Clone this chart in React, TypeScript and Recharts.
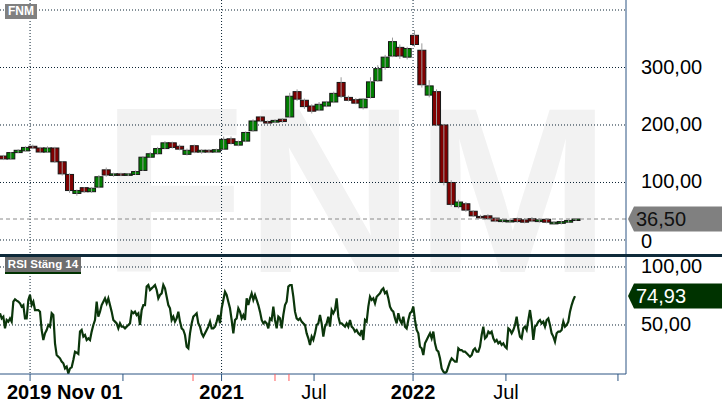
import { ComposedChart, Bar, Line, XAxis, YAxis, CartesianGrid, ReferenceLine } from 'recharts';

const FONT = '"Liberation Sans", Arial, sans-serif';

// x axis runs in fractional years
const X_DOMAIN = [2019.843, 2023.112];
const CANDLE_START = 2019.862;
const CANDLE_STEP = 14 / 365.25; // two-week candles
const RSI_START = 2019.843;
const RSI_STEP = 0.0087032;

const OPEN = [
  146, 141, 152, 155, 163, 160, 153, 160, 136, 114, 81, 91, 84, 92, 122, 113, 115, 113, 114, 121,
  144, 150, 159, 169, 163, 149, 164, 153, 156, 153, 158, 176, 165, 172, 190, 214, 206, 205, 210, 214,
  258, 243, 233, 226, 233, 240, 274, 248, 244, 230, 248, 277, 300, 320, 335, 318, 356, 330, 252, 258,
  200, 100, 58, 63, 50, 41, 42, 38, 32, 33, 37, 35, 37, 32, 36, 28, 29, 31, 34,
];
const CLOSE = [
  141, 152, 156, 161, 160, 153, 160, 136, 115, 86, 86, 84, 90, 110, 113, 115, 113, 115, 119, 144,
  150, 159, 169, 161, 158, 156, 153, 156, 153, 157, 175, 168, 171, 187, 207, 207, 205, 208, 206, 250,
  245, 232, 224, 236, 240, 255, 250, 243, 238, 245, 275, 298, 318, 345, 320, 333, 340, 270, 268, 200,
  100, 62, 66, 52, 42, 39, 37, 33, 35, 34, 32, 31, 33, 35, 31, 31, 32, 34, 36.5,
];
const HIGH = [
  148, 153, 158, 163, 166, 162, 163, 162, 137, 116, 88, 92, 92, 113, 126, 117, 117, 116, 121, 146,
  153, 162, 172, 171, 166, 159, 166, 158, 158, 159, 180, 180, 173, 189, 210, 216, 208, 210, 212, 256,
  262, 246, 236, 240, 242, 258, 283, 251, 247, 247, 283, 304, 322, 352, 340, 336, 365, 342, 278, 262,
  202, 104, 70, 66, 52, 44, 45, 40, 38, 37, 39, 38, 40, 38, 38, 33, 34, 36, 38,
];
const LOW = [
  139, 140, 151, 154, 158, 151, 152, 134, 112, 82, 77, 82, 82, 90, 110, 110, 111, 111, 113, 120,
  143, 149, 158, 159, 156, 147, 151, 150, 151, 152, 157, 166, 163, 170, 188, 205, 203, 203, 204, 212,
  242, 228, 220, 224, 231, 238, 247, 241, 236, 227, 246, 275, 296, 318, 315, 314, 336, 265, 248, 198,
  95, 58, 55, 49, 40, 37, 35, 31, 30, 30, 30, 29, 31, 30, 29, 26, 27, 30, 33,
];

const RSI = [
  60.1, 55.7, 57.2, 47.1, 54.3, 52.9, 55.7, 52.9, 70.1, 72.1,
  71, 70.1, 68.7, 65.8, 67.2, 55.7, 55.7, 71.6, 75.9, 67.2,
  70.1, 62.9, 62.9, 62.9, 61.5, 45.7, 37.1, 42.8, 45.7, 50,
  48.6, 60.1, 58.6, 34.2, 24.1, 22.7, 21.3, 18.4, 17, 12.6,
  14.1, 8.3, 12.6, 13.5, 19.8, 27, 26.1, 25, 44.3, 45.7,
  40, 41.4, 37.1, 38.5, 37.1, 44.3, 50, 54.3, 70.1, 57.2,
  61.5, 67.2, 70.1, 73, 68.7, 73, 67.2, 61.5, 54.3, 52.9,
  51.4, 47.1, 51.4, 48.6, 48.6, 47.1, 48.6, 50, 51.4, 61.5,
  60.1, 61.5, 58.6, 60.1, 50, 62.9, 67.2, 67.2, 83.1, 84.5,
  80.2,
  81.6, 83, 84.5, 80.2, 73, 75.9, 77.3, 84.5, 81.6, 74.4,
  67.2, 64.4, 54.3, 57.2, 52.9, 55.7, 61.5, 52.9, 47.1, 45.7,
  41.4, 31.3, 29.9, 42.8, 51.4, 57.2, 58.6, 60.1, 51.4, 48.6,
  42.8, 40, 42.8, 45.7, 48.6, 52.9, 47.1, 47.1, 48.6, 52.9,
  58.6, 51.4, 64.4, 71.6, 78.7, 75.9, 70.1, 64.4, 54.3, 42.8,
  54.3, 55.7, 64.4, 61.5, 55.7, 58.6, 54.3, 73, 67.2, 73,
  77.3, 71.6, 75.9, 71.6, 67.2, 61.5, 54.3, 51.4, 52.9, 51.4,
  47.1, 55.7, 54.3, 65.8, 54.3, 47.1, 57.2, 55.7, 47.1, 58.6,
  67.2, 70.1, 83.1, 84.5, 84.5, 74.4, 61.5,
  55.7, 54.3, 55.7, 52.9, 51.4, 50, 42.8, 38.5, 32.8, 40,
  37.1, 42.8, 50, 51.4, 58.6, 51.4, 40, 48.6, 51.4, 57.2,
  48.6, 62.9, 60.1, 62.9, 73, 57.2, 51.4, 51.4, 50, 48.6,
  51.4, 48.6, 54.3, 48.6, 47.1, 44.3, 45.7, 42.8, 41.4, 45.7,
  37.1, 54.3, 52.9, 65.8, 74.4, 71.6, 73, 68.7, 74.4, 75.9,
  77.3, 80.2, 81.6, 77.3, 78.7, 73, 65.8, 62.9, 61.5, 55.7,
  51.4, 60.1, 54.3, 51.4, 57.2, 48.6, 47.1, 54.3, 60.1, 61.5,
  65.8, 54.3, 45.7, 42.8, 31.3, 29.9, 24.1, 34.2, 37.1, 40,
  42.8, 38.5, 44.3, 34.2, 28.4, 27, 21.3,
  12.6, 9.8, 8.3, 9.8, 14.1, 18.4, 21.3, 19.8, 18.4, 18.4,
  29.9, 28.4, 28.4, 27, 27, 25.6, 24.1, 22.7, 24.1, 28.4,
  29.9, 27, 27, 31.3, 41.4, 48.6, 38.5, 40, 44.3, 42.8,
  44.3, 38.5, 35.6, 37.1, 34.2, 35.6, 32.8, 34.2, 31.3, 29.9,
  47.1, 45.7, 42.8, 45.7, 50, 57.2, 47.1, 40, 38.5, 47.1,
  48.6, 45.7, 54.3, 62.9, 52.9, 37.1, 48.6, 50, 52.9, 54.3,
  51.4, 52.9, 48.6, 54.3, 55.7, 50, 42.8, 40, 35.6, 42.8,
  44.3, 44.3, 45.7, 52.9, 48.6, 50, 52.9, 61.5, 67.2, 71.6,
  74.93,
];

const PRICE_DOMAIN = [-26.1, 417.4];
const PRICE_TICKS = [0, 100, 200, 300, 400];
const RSI_DOMAIN = [7.76, 110.34];
const RSI_TICKS = [50, 100];
const YEAR_LINES = [2020, 2021, 2022];
const LAST_PRICE = 36.5;
const LAST_RSI = 74.93;

const X_TICKS = [
  { v: X_DOMAIN[0], label: '2019 Nov 01', bold: true, start: true },
  { v: 2020, label: '' },
  { v: 2020.485, label: '' },
  { v: 2020.851, label: '', marker: true },
  { v: 2021, label: '2021', bold: true },
  { v: 2021.279, label: '', marker: true },
  { v: 2021.352, label: '', marker: true },
  { v: 2021.483, label: 'Jul' },
  { v: 2022, label: '2022', bold: true },
  { v: 2022.485, label: 'Jul' },
  { v: 2023.07, label: '' },
];

const candles = OPEN.map((open, i) => ({
  t: CANDLE_START + i * CANDLE_STEP,
  open,
  close: CLOSE[i],
  high: HIGH[i],
  low: LOW[i],
}));

const rsiData = RSI.map((v, i) => ({ t: RSI_START + i * RSI_STEP, v }));

const GRID = '#0b2233';
const AXIS = '#2c5583';
const UP = '#008000';
const DOWN = '#800000';

const fmt = (v: number) => (v === 0 ? '0' : v.toFixed(2).replace('.', ','));

function Candle(props: any) {
  const { x, y, width, height, payload } = props;
  if (!payload || height == null) return null;
  const { open, close, high, low } = payload;
  const span = high - low || 1;
  const toY = (v: number) => y + ((high - v) / span) * height;
  const top = toY(Math.max(open, close));
  const bottom = toY(Math.min(open, close));
  const cx = x + width / 2;
  const bodyW = 8; // bodies overlap slightly, like the reference
  return (
    <g>
      <rect
        x={cx - bodyW / 2}
        y={top}
        width={bodyW}
        height={Math.max(bottom - top, 1.5)}
        fill={close >= open ? UP : DOWN}
        stroke="#161616"
        strokeWidth={1}
      />
      <line x1={cx} x2={cx} y1={y} y2={y + height} stroke="#9a9a9a" strokeWidth={1} />
    </g>
  );
}

function PriceTick({ x, y, payload }: any) {
  if (payload.value === 400) return null;
  return (
    <text x={x} y={y + (payload.value === 0 ? 8 : 6)} fontSize={20} fill="#000" fontFamily={FONT}>
      {fmt(payload.value)}
    </text>
  );
}

function RsiTick({ x, y, payload }: any) {
  return (
    <text x={x} y={y + 6} fontSize={20} fill="#000" fontFamily={FONT}>
      {fmt(payload.value)}
    </text>
  );
}

function TimeTick({ x, y, payload }: any) {
  const tick = X_TICKS.find((t) => Math.abs(t.v - payload.value) < 1e-6);
  if (!tick) return null;
  return (
    <g>
      {!tick.start && (
        <line x1={x} x2={x} y1={y - 7} y2={y} stroke={tick.marker ? '#ff5a5a' : AXIS} strokeWidth={1} />
      )}
      {tick.label && (
        <text
          x={tick.start ? x + 7 : x}
          y={y + 18}
          textAnchor={tick.start ? 'start' : 'middle'}
          fontSize={20}
          fontWeight={tick.bold ? 'bold' : 'normal'}
          fill="#000"
          fontFamily={FONT}
        >
          {tick.label}
        </text>
      )}
    </g>
  );
}

function Badge({ viewBox, text, fill, color }: any) {
  if (!viewBox) return null;
  const right = viewBox.x + viewBox.width;
  const y = viewBox.y;
  const pts = [
    [right + 2, y],
    [right + 8, y - 12.5],
    [722, y - 12.5],
    [722, y + 12.5],
    [right + 8, y + 12.5],
  ]
    .map((p) => p.join(','))
    .join(' ');
  return (
    <g>
      <polygon points={pts} fill={fill} />
      <text x={right + 10} y={y + 7} fontSize={20} fill={color} fontFamily={FONT}>
        {text}
      </text>
    </g>
  );
}

const tag = (top: number, width: number, text: string, bg: string, extra = {}) => (
  <div
    style={{
      position: 'absolute',
      left: 5,
      top,
      width,
      height: 15,
      background: bg,
      color: '#fff',
      fontFamily: FONT,
      fontWeight: 'bold',
      fontSize: 11.5,
      lineHeight: '15px',
      textAlign: 'center',
      ...extra,
    }}
  >
    {text}
  </div>
);

export default function App() {
  return (
    <div
      style={{
        position: 'absolute',
        left: 0,
        top: 0,
        width: 722,
        height: 410,
        background: '#fff',
        overflow: 'hidden',
      }}
    >
      {/* watermark */}
      <svg width={722} height={410} style={{ position: 'absolute', left: 0, top: 0 }}>
        <text x={356} y={272} textAnchor="middle" fontSize={235} fontWeight="bold" fill="#f2f2f2" fontFamily={FONT}>
          FNM
        </text>
      </svg>

      {/* price pane */}
      <div style={{ position: 'absolute', left: 0, top: 0 }}>
        <ComposedChart width={722} height={255} data={candles} margin={{ top: 0, right: 0, bottom: 0, left: 0 }}>
          <CartesianGrid
            stroke={GRID}
            strokeDasharray="1 2"
            horizontalValues={PRICE_TICKS}
            verticalValues={YEAR_LINES}
          />
          <XAxis type="number" dataKey="t" domain={X_DOMAIN} allowDataOverflow ticks={YEAR_LINES} hide />
          <YAxis
            orientation="right"
            width={96}
            domain={PRICE_DOMAIN}
            allowDataOverflow
            ticks={PRICE_TICKS}
            interval={0}
            tick={<PriceTick />}
            tickLine={false}
            tickSize={0}
            tickMargin={15}
            axisLine={{ stroke: AXIS }}
          />
          <ReferenceLine
            y={LAST_PRICE}
            stroke="#8a8a8a"
            strokeDasharray="4 3"
            label={(p: any) => <Badge viewBox={p.viewBox} text={fmt(LAST_PRICE)} fill="#808080" color="#111" />}
          />
          <Bar
            dataKey={(d: any) => [d.low, d.high]}
            barSize={7}
            shape={<Candle />}
            isAnimationActive={false}
          />
        </ComposedChart>
      </div>

      {/* RSI pane */}
      <div style={{ position: 'absolute', left: 0, top: 255 }}>
        <ComposedChart width={722} height={155} data={rsiData} margin={{ top: 0, right: 0, bottom: 0, left: 0 }}>
          <CartesianGrid
            stroke={GRID}
            strokeDasharray="1 2"
            horizontalValues={RSI_TICKS}
            verticalValues={YEAR_LINES}
          />
          <XAxis
            type="number"
            dataKey="t"
            domain={X_DOMAIN}
            allowDataOverflow
            ticks={X_TICKS.map((t) => t.v)}
            interval={0}
            height={36}
            tick={<TimeTick />}
            tickLine={false}
            tickSize={7}
            tickMargin={0}
            axisLine={{ stroke: AXIS }}
          />
          <YAxis
            orientation="right"
            width={96}
            domain={RSI_DOMAIN}
            allowDataOverflow
            ticks={RSI_TICKS}
            interval={0}
            tick={<RsiTick />}
            tickLine={false}
            tickSize={0}
            tickMargin={15}
            axisLine={{ stroke: AXIS }}
          />
          <ReferenceLine
            y={LAST_RSI}
            stroke="none"
            label={(p: any) => <Badge viewBox={p.viewBox} text={fmt(LAST_RSI)} fill="#003300" color="#fff" />}
          />
          <Line
            type="linear"
            dataKey="v"
            dot={false}
            stroke="#0b360b"
            strokeWidth={2.2}
            isAnimationActive={false}
          />
        </ComposedChart>
      </div>

      {/* pane separator */}
      <div style={{ position: 'absolute', left: 0, top: 254, width: 722, height: 2.5, background: '#0e2a3a' }} />

      {tag(4, 32, 'FNM', '#808080', { fontSize: 12 })}
      {tag(257, 76, 'RSI Stäng 14', '#6e6e6e', { borderBottom: '2px solid #003300' })}
    </div>
  );
}
